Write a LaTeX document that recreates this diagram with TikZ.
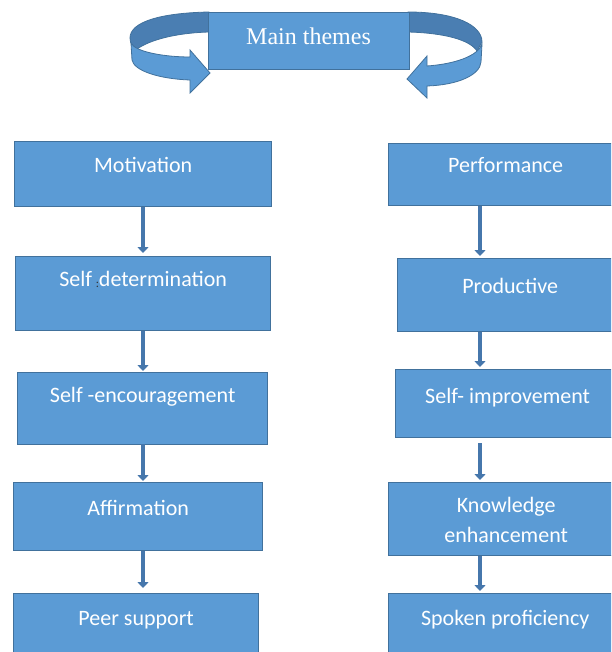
\documentclass[tikz,border=0pt]{standalone}
\usepackage{fontspec}
\setmainfont{Carlito}
\newfontfamily\serifmain{Liberation Serif}
\usetikzlibrary{arrows.meta}
\definecolor{boxfill}{HTML}{5B9BD5}
\definecolor{boxline}{HTML}{41719C}
\definecolor{backband}{HTML}{4A7EB2}
\definecolor{arrowcol}{HTML}{4677AC}
\tikzset{
  box/.style={draw=boxline, line width=1.3pt, fill=boxfill, rectangle, inner sep=0pt, anchor=north west},
  lbl/.style={text=white, font=\fontsize{22}{30}\selectfont, inner sep=0pt, anchor=base, align=center},
  conn/.style={draw=arrowcol, line width=4.5pt, -{Triangle[width=11pt,length=6pt]}},
  backpart/.style={fill=backband, draw=boxline, line width=0.8pt},
  frontpart/.style={fill=boxfill, draw=boxline, line width=0.8pt},
}
\begin{document}
\begin{tikzpicture}[x=1pt,y=-1pt]
\useasboundingbox (0,0) rectangle (611,652);
\clip (0,0) rectangle (611,652);
% ribbons around the title
\filldraw[backpart] (209,12) .. controls (160,13) and (130,22) .. (130,38) .. controls (130,44) and (133,47) .. (137,49) .. controls (150,40) and (175,33) .. (209,32) -- cycle;
\filldraw[frontpart] (131,43) .. controls (135,52) and (165,57) .. (190,57) -- (190,50) -- (210,73) -- (190,93) -- (190,80) .. controls (160,79) and (134,71) .. (132,60) -- cycle;
\filldraw[backpart] (408,12) .. controls (455,12) and (482,25) .. (482,42) -- (477,51) .. controls (470,40) and (445,33) .. (408,32) -- cycle;
\filldraw[frontpart] (482,44) .. controls (478,56) and (455,64) .. (427,66) -- (427,56) -- (407,79) -- (427,98) -- (427,86) .. controls (458,85) and (480,75) .. (481,62) -- cycle;
\node[box, minimum width=201pt, minimum height=57pt] (main) at (208,12) {};
\node[text=white, font=\serifmain\fontsize{24}{28}\selectfont, inner sep=0pt, anchor=base] (maint) at (308.5,45) {Main themes};
% left column
\node[box, minimum width=257pt, minimum height=65pt] (mot) at (14,141) {};
\node[box, minimum width=255pt, minimum height=74pt] (sd) at (15,256) {};
\node[box, minimum width=250pt, minimum height=72pt] (se) at (17,372) {};
\node[box, minimum width=249pt, minimum height=68pt] (aff) at (13,482) {};
\node[box, minimum width=245pt, minimum height=72pt] (peer) at (13,593) {};
% right column
\node[box, minimum width=234pt, minimum height=62pt] (perf) at (388,143) {};
\node[box, minimum width=225pt, minimum height=73pt] (prod) at (397,258) {};
\node[box, minimum width=224pt, minimum height=68pt] (si) at (395,369) {};
\node[box, minimum width=235pt, minimum height=73pt] (ke) at (388,482) {};
\node[box, minimum width=233pt, minimum height=72pt] (sp) at (388,593) {};
% labels
\node[lbl] (motl) at ([yshift=-32pt]mot.north) {Motivation};
\node[lbl] (sdl) at ([yshift=-30pt]sd.north) {Self\,\raisebox{-1pt}{\textcolor{black!80}{\fontsize{12}{12}\selectfont:}}determination};
\node[lbl] (sel) at ([yshift=-30pt]se.north) {Self -encouragement};
\node[lbl] (affl) at ([yshift=-33pt]aff.north) {Affirmation};
\node[lbl] (peerl) at ([yshift=-32pt]peer.north) {Peer support};
\node[lbl] (perfl) at ([yshift=-30pt]perf.north) {Performance};
\node[lbl] (prodl) at ([yshift=-35pt]prod.north) {Productive};
\node[lbl] (sil) at ([yshift=-34pt]si.north) {Self- improvement};
\node[lbl] (kel) at ([yshift=-60pt]ke.north) {Knowledge\\enhancement};
\node[lbl] (spl) at ([yshift=-32pt]sp.north) {Spoken proficiency};
% connectors
\coordinate (lc) at (143,0);
\coordinate (rc) at (480,0);
\draw[conn, shorten >=3pt] (mot.south -| lc) -- (sd.north -| lc);
\draw[conn, shorten >=1pt] (sd.south -| lc) -- (se.north -| lc);
\draw[conn, shorten <=-1pt, shorten >=1pt] (se.south -| lc) -- (aff.north -| lc);
\draw[conn, shorten >=5pt] (aff.south -| lc) -- (peer.north -| lc);
\draw[conn, shorten >=2pt] (perf.south -| rc) -- (prod.north -| rc);
\draw[conn, shorten >=2pt] (prod.south -| rc) -- (si.north -| rc);
\draw[conn, shorten <=5pt, shorten >=2pt] (si.south -| rc) -- (ke.north -| rc);
\draw[conn, shorten >=2pt] (ke.south -| rc) -- (sp.north -| rc);
\end{tikzpicture}
\end{document}
